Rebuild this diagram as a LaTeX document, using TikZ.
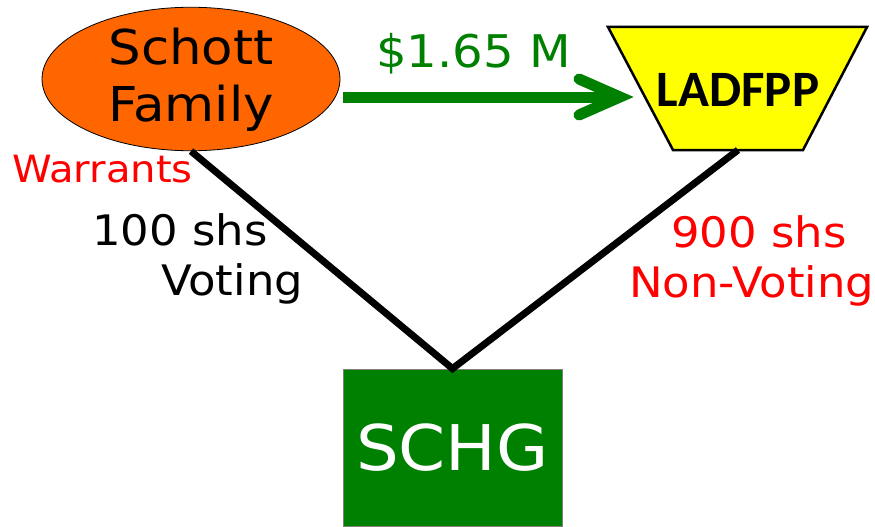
\documentclass[tikz,border=0pt]{standalone}
\usepackage{fontspec}
\usetikzlibrary{shapes.geometric}
\setmainfont{DejaVu Sans}[FakeStretch=1.07]
\newfontfamily\carlito{Carlito}
\definecolor{famorange}{RGB}{255,102,0}
\definecolor{dkgreen}{RGB}{0,128,0}
\definecolor{ylw}{RGB}{255,255,0}
\definecolor{lblred}{RGB}{255,0,0}
\begin{document}
\begin{tikzpicture}[x=1pt,y=-1pt,
  lbl/.style={inner sep=0pt, anchor=base west, font=\fontsize{42}{50}\selectfont},
  link/.style={line width=7pt, black, line join=miter}]
\useasboundingbox (0,0) rectangle (875,527);
% Schott Family ellipse
\node[ellipse, draw=black, line width=0.8pt, fill=famorange, minimum width=298pt, minimum height=138pt,
  inner sep=0pt, align=center, font=\fontsize{48}{57}\selectfont, text depth=8pt] (fam) at (191,79) {Schott\\Family};
% LADFPP trapezium
\coordinate (tl) at (608,27);
\coordinate (tr) at (867,27);
\coordinate (br) at (803,150);
\coordinate (bl) at (673,150);
\draw[line width=2.5pt, fill=ylw, line join=miter] (tl) -- (tr) -- (br) -- (bl) -- cycle;
\node[inner sep=0pt, font=\carlito\bfseries\fontsize{51}{60}\selectfont] (lad) at (738,90) {LADFPP};
\coordinate (ladb) at (738,150);
% SCHG box
\node[draw=gray, line width=0.8pt, fill=dkgreen, text=white, minimum width=219pt, minimum height=157pt,
  inner sep=0pt, font=\fontsize{63}{70}\selectfont] (schg) at (452.5,447.5) {SCHG};
% links
\draw[link] (fam.south) -- (schg.north) -- (ladb);
% money arrow
\coordinate (as) at (343,97);
\coordinate (ae) at (620,97);
\draw[dkgreen, line width=11pt] (as) -- (ae);
\draw[dkgreen, line width=11pt, line cap=round, line join=miter] (579,79) -- (ae) -- (579,115);
\node[inner sep=0pt, anchor=base, text=dkgreen, font=\fontsize{45}{50}\selectfont] (money) at (473.5,67) {\$1.65 M};
% labels
\node[lbl, text=lblred, font=\fontsize{37.5}{40}\selectfont] (war) at (12,182) {Warrants};
\node[lbl] (v1) at (92,245) {100 shs};
\node[lbl] (v2) at (161,295) {Voting};
\node[lbl, text=lblred] (n1) at (671,247) {900 shs};
\node[lbl, text=lblred] (n2) at (629,297) {Non-Voting};
\end{tikzpicture}
\end{document}
